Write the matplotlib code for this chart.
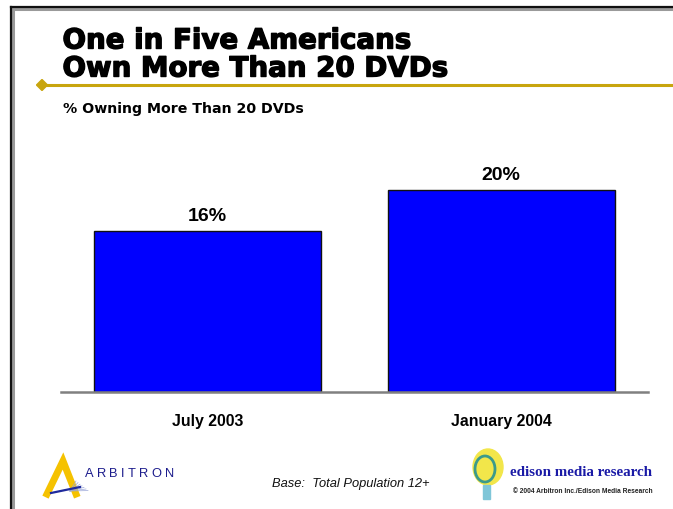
import matplotlib
matplotlib.use("Agg")
import matplotlib.pyplot as plt
import matplotlib.patheffects as pe
from matplotlib.patches import Polygon, Ellipse, Rectangle
from matplotlib.lines import Line2D

# Data
periods = ["July 2003", "January 2004"]
pct_owning = [16, 20]

title_lines = ["One in Five Americans", "Own More Than 20 DVDs"]
subtitle = "% Owning More Than 20 DVDs"
base_note = "Base:  Total Population 12+"

W, H = 673, 510
fig = plt.figure(figsize=(W / 100, H / 100), dpi=100)
fig.patch.set_facecolor("white")
renderer = fig.canvas.get_renderer()


def fx(px):
    return px / W


def fy(py):
    return 1 - py / H


def fitted_text(x_px, y_px, s, width_px, size, **kw):
    """Place left-aligned text and resize it so it spans width_px pixels."""
    t = fig.text(fx(x_px), fy(y_px), s, fontsize=size, va="baseline", ha="left", **kw)
    w = t.get_window_extent(renderer).width
    t.set_fontsize(size * width_px / w)
    return t


# Slide frame (left and top edges with a soft shadow)
for off, col, lw in [(1.5, "#9a9a9a", 2.2), (0, "#111111", 1.6)]:
    fig.add_artist(Line2D([fx(11 + off), fx(11 + off)], [fy(8 + off), 0],
                          color=col, lw=lw, transform=fig.transFigure))
    fig.add_artist(Line2D([fx(11 + off), 1], [fy(8 + off), fy(8 + off)],
                          color=col, lw=lw, transform=fig.transFigure))

# Title
heavy = [pe.withStroke(linewidth=1.0, foreground="black")]
t2 = fitted_text(62.5, 77.5, title_lines[1], 386, 18, fontweight="bold",
                 family="DejaVu Sans", path_effects=heavy)
fig.text(fx(62.5), fy(49.5), title_lines[0], fontsize=t2.get_fontsize(),
         fontweight="bold", family="DejaVu Sans", va="baseline", ha="left",
         path_effects=heavy)

# Gold rule with diamond
gold = "#C8A50E"
fig.add_artist(Line2D([fx(42), 1], [fy(86), fy(86)], color=gold, lw=2.2,
                      transform=fig.transFigure))
fig.add_artist(Polygon([[fx(36.5), fy(86)], [fx(42), fy(80.5)], [fx(47.5), fy(86)],
                        [fx(42), fy(91.5)]], closed=True, color=gold,
                       transform=fig.transFigure))

fitted_text(63, 112.7, subtitle, 241, 10, fontweight="bold", family="DejaVu Sans")

# Bar chart
ax = fig.add_axes([fx(61), fy(393), fx(648) - fx(61), (393 - 141) / H])
x = list(range(len(periods)))
ax.bar(x, pct_owning, width=0.773, color="#0000FF", edgecolor="#111111", lw=1.0,
       zorder=2)
ax.set_xlim(-0.5, 1.5)
ax.set_ylim(0, 25)
for side in ["top", "right", "left"]:
    ax.spines[side].set_visible(False)
ax.spines["bottom"].set_color("#808080")
ax.spines["bottom"].set_linewidth(1.8)
ax.spines["bottom"].set_zorder(3)
ax.set_yticks([])
ax.set_xticks(x)
ax.set_xticklabels(periods, fontsize=11.4, fontweight="bold", family="Liberation Sans")
ax.tick_params(axis="x", length=0, pad=15)
ax.set_facecolor("none")
for xi, v in zip(x, pct_owning):
    ax.annotate(f"{v}%", (xi, v), xytext=(0, 8), textcoords="offset points",
                ha="center", va="baseline", fontsize=14, fontweight="bold",
                family="Liberation Sans")

# Footer note
fig.text(fx(272), fy(486.7), base_note, fontsize=9.3, style="italic",
         family="Liberation Sans", va="baseline", ha="left", color="#111111")

# Arbitron mark
fig.add_artist(Line2D([fx(47), fx(63), fx(76)], [fy(495), fy(462), fy(495)],
                      color="#F5C200", lw=5, solid_joinstyle="miter",
                      transform=fig.transFigure))
for k in range(7):
    fig.add_artist(Line2D([fx(70), fx(76 + k * 2)], [fy(492), fy(482 + k * 1.6)],
                          color="#9AA6D8", lw=0.5, transform=fig.transFigure))
fig.add_artist(Line2D([fx(51), fx(80)], [fy(494), fy(488)], color="#1F2A9C", lw=1.6,
                      transform=fig.transFigure))
letters = "ARBITRON"
cursor = 85.0
tracking = 3.3
for ch in letters:
    t = fig.text(fx(cursor), fy(477), ch, fontsize=9.3, family="Liberation Sans",
                 color="#1C1C8C", va="baseline", ha="left")
    cursor += t.get_window_extent(renderer).width + tracking

# Edison mark
fig.add_artist(Ellipse((fx(488), fy(468)), fx(30) - fx(0), 36 / H, color="#F2E64A",
                       transform=fig.transFigure))
fig.add_artist(Ellipse((fx(485), fy(470)), fx(20) - fx(0), 26 / H, fill=False,
                       ec="#3C9A8A", lw=2.0, transform=fig.transFigure))
fig.add_artist(Rectangle((fx(483), fy(500)), fx(7) - fx(0), 14 / H, color="#7FC6D8",
                         transform=fig.transFigure))
fitted_text(510, 476, "edison media research", 142, 11, fontweight="bold",
            family="Liberation Serif", color="#1A1AA6")
fitted_text(513, 493.5, "© 2004 Arbitron Inc./Edison Media Research", 138, 4.7,
            fontweight="bold", family="Liberation Sans", color="#222222")

fig.savefig("out.png", dpi=100, facecolor="white")
